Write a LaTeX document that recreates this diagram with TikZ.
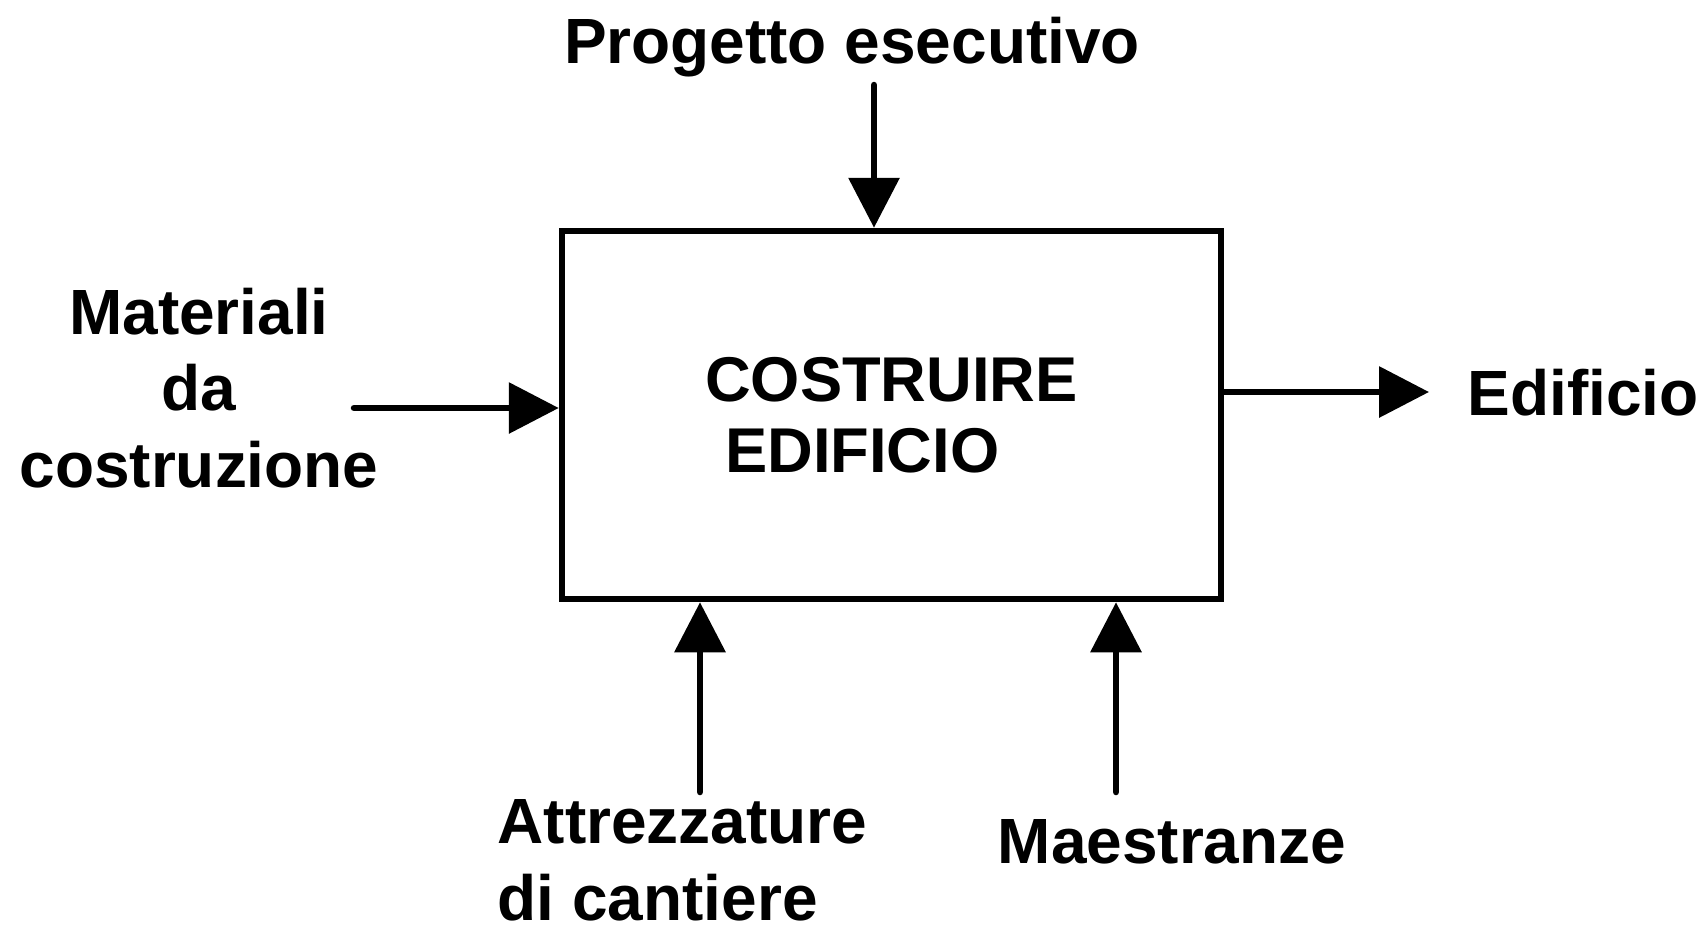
\documentclass[tikz,border=0pt]{standalone}
\usepackage{fontspec}
\setmainfont{Liberation Sans}
\usetikzlibrary{arrows.meta}
\tikzset{
    flow/.style={line width=1.85pt, line cap=round, -{Triangle[length=0.5cm,width=0.5cm]}},
    lbl/.style={font=\bfseries\fontsize{18.2}{21.8}\selectfont, inner sep=0pt}
}
\begin{document}
\begin{tikzpicture}
        \useasboundingbox (0,0) rectangle (17.07,-9.29);

        % Activity
        \node[draw, line width=1.85pt, minimum width=6.59cm, minimum height=3.68cm, inner sep=0pt,
              align=left, font=\bfseries\fontsize{18}{20.3}\selectfont] (box) at (8.915,-4.15)
              {COSTRUIRE\\\hspace*{0.2cm}EDIFICIO};

        % Control
        \node[lbl, anchor=base] (prog) at (8.52,-0.63) {Progetto esecutivo};
        \coordinate (ctrl) at (8.74,-0.85);
        \draw[flow] (ctrl) -- (ctrl |- box.north);

        % Input
        \node[lbl, align=center] (mat) at (1.99,-3.88) {Materiali\\da\\costruzione};
        \coordinate (in) at (3.54,-4.08);
        \draw[flow] (in) -- (in -| box.west);

        % Output
        \coordinate (out) at (14.29,-3.92);
        \draw[flow] (out -| box.east) -- (out);
        \node[lbl, anchor=base west] (edif) at (14.67,-4.15) {Edificio};

        % Mechanisms
        \coordinate (mech1) at (7.00,-7.92);
        \draw[flow] (mech1) -- (mech1 |- box.south);
        \node[lbl, align=left, anchor=west] (attr) at (4.97,-8.60) {Attrezzature\\di cantiere};

        \coordinate (mech2) at (11.16,-7.92);
        \draw[flow] (mech2) -- (mech2 |- box.south);
        \node[lbl, anchor=base] (maes) at (11.72,-8.63) {Maestranze};
    \end{tikzpicture}
\end{document}
